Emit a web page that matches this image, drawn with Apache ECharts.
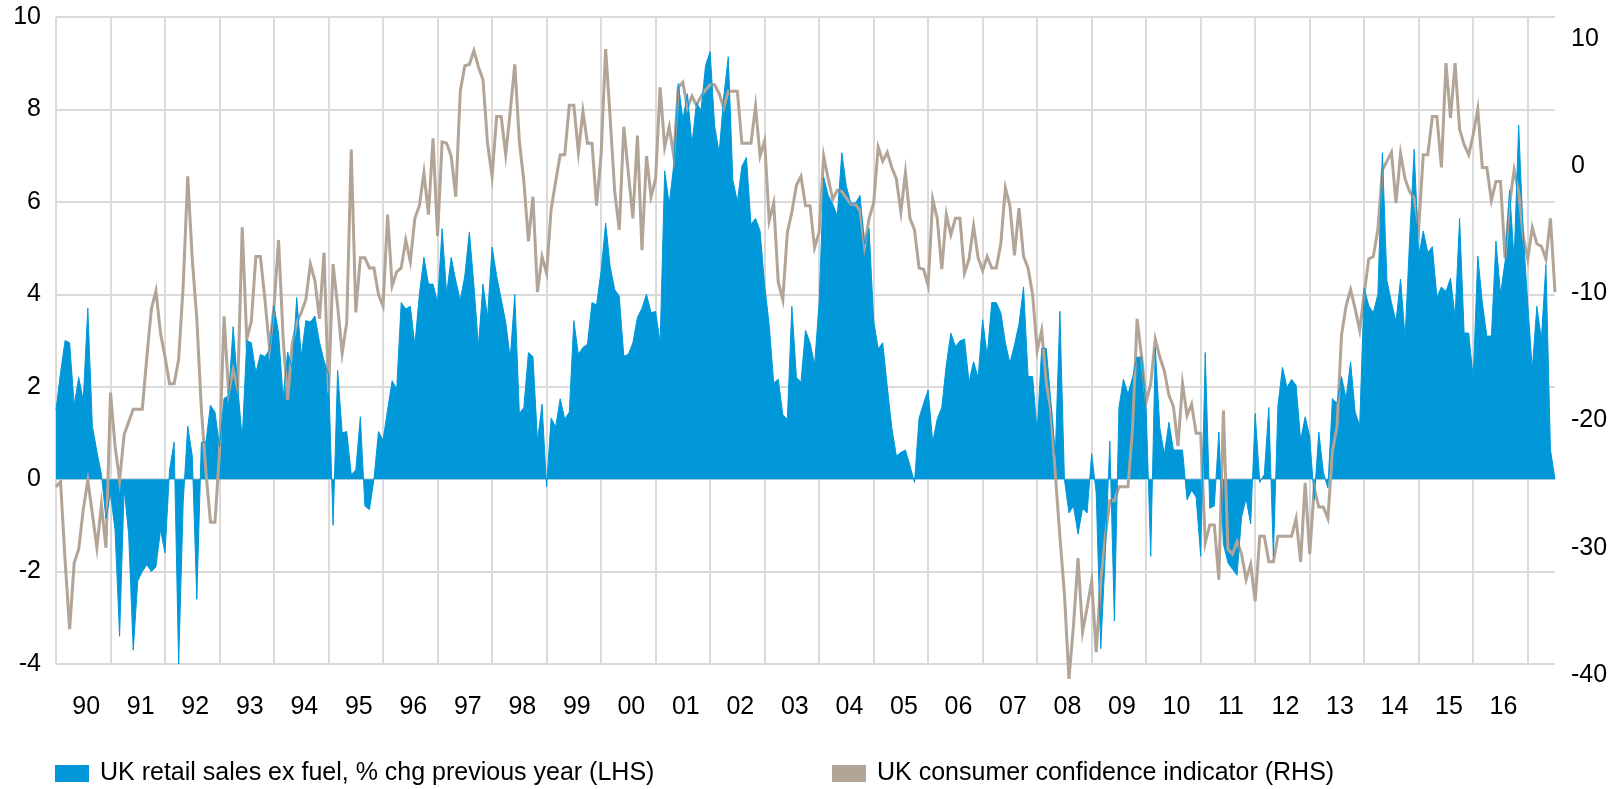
<!DOCTYPE html>
<html>
<head>
<meta charset="utf-8">
<title>UK retail sales and consumer confidence</title>
<script src="https://cdn.jsdelivr.net/npm/echarts@6/dist/echarts.min.js"></script>
<style>
  html, body { margin: 0; padding: 0; background: #ffffff; }
  #chart { width: 1616px; height: 789px; }
</style>
</head>
<body>
<div id="chart"></div>
<script>
// Monthly series, starting January 1990
const startYear = 1990;

// Two-digit year labels shown under each calendar year
const yearLabels = ['90','91','92','93','94','95','96','97','98','99','00','01','02','03',
                    '04','05','06','07','08','09','10','11','12','13','14','15','16'];

// UK retail sales ex fuel, % change on previous year (left axis)
const retailSales = [
  1.5, 2.3, 3.0, 2.95, 1.6, 2.2, 1.7, 3.7, 1.15, 0.6, 0.1, -0.85,
  -0.3, -1.1, -3.4, -0.2, -1.2, -3.7, -2.2, -2.0, -1.85, -2.0, -1.9, -1.1,
  -1.6, 0.2, 0.8, -4.0, -0.5, 1.15, 0.5, -2.6, 0.8, 0.8, 1.6, 1.45,
  0.7, 1.75, 1.8, 3.3, 2.0, 0.87, 3.0, 2.95, 2.3, 2.7, 2.65, 2.8,
  3.75, 3.15, 1.75, 2.75, 2.4, 3.93, 2.65, 3.43, 3.4, 3.53, 2.97, 2.56,
  2.27, -1.0, 2.35, 1.0, 1.03, 0.1, 0.2, 1.35, -0.58, -0.66, 0.0, 1.03,
  0.84, 1.5, 2.13, 1.95, 3.82, 3.68, 3.74, 2.9, 4.0, 4.8, 4.22, 4.22,
  3.82, 5.42, 4.0, 4.8, 4.3, 3.87, 4.4, 5.35, 4.2, 2.87, 4.22, 3.5,
  5.02, 4.4, 3.9, 3.4, 2.61, 4.0, 1.42, 1.55, 2.74, 2.65, 0.82, 1.62,
  -0.17, 1.32, 1.13, 1.74, 1.3, 1.45, 3.43, 2.7, 2.85, 2.92, 3.82, 3.77,
  4.5, 5.54, 4.6, 4.1, 3.96, 2.66, 2.7, 2.95, 3.5, 3.7, 4.0, 3.6,
  3.63, 2.95, 6.67, 5.95, 6.8, 8.56, 7.78, 8.34, 7.25, 8.14, 7.98, 8.95,
  9.25, 7.64, 7.06, 8.27, 9.14, 6.48, 6.0, 6.77, 6.96, 5.51, 5.64, 5.37,
  4.2, 3.34, 2.08, 2.16, 1.4, 1.29, 3.74, 2.2, 2.1, 3.22, 2.95, 2.47,
  3.82, 6.53, 6.14, 5.95, 5.7, 7.06, 6.33, 5.97, 5.97, 6.14, 5.08, 5.42,
  3.43, 2.82, 2.95, 2.0, 1.11, 0.5, 0.58, 0.63, 0.29, -0.07, 1.32, 1.64,
  1.93, 0.8, 1.3, 1.55, 2.47, 3.16, 2.87, 2.99, 3.03, 2.1, 2.54, 2.2,
  3.45, 2.66, 3.82, 3.82, 3.6, 2.95, 2.51, 2.9, 3.36, 4.16, 2.22, 2.22,
  1.02, 2.83, 2.83, 1.69, 0.53, 3.63, 0.0, -0.73, -0.58, -1.19, -0.63, -0.73,
  0.55, -0.3, -3.67, -1.6, 0.82, -3.07, 1.55, 2.16, 1.84, 2.2, 2.64, 2.64,
  1.5, -1.67, 2.83, 1.11, 0.53, 1.23, 0.63, 0.63, 0.63, -0.45, -0.24, -0.39,
  -1.67, 2.74, -0.63, -0.58, 1.02, -1.4, -1.81, -1.95, -2.08, -0.82, -0.42, -0.97,
  1.42, -0.07, 0.1, 1.55, -1.67, 1.58, 2.42, 1.98, 2.16, 2.03, 0.84, 1.35,
  0.92, -0.44, 1.02, 0.15, -0.19, 1.74, 1.64, 2.22, 1.74, 2.54, 1.45, 1.16,
  4.13, 3.75, 3.6, 4.0, 7.06, 4.3, 3.82, 3.41, 4.33, 3.05, 5.2, 7.14,
  4.83, 5.37, 4.9, 5.03, 3.94, 4.16, 4.06, 4.35, 3.51, 5.64, 3.16, 3.16,
  2.18, 4.83, 3.82, 3.09, 3.1, 5.15, 4.01, 4.7, 6.26, 4.74, 7.66, 5.3,
  3.8, 2.37, 3.74, 3.03, 4.64, 0.63, 0.0
];

// UK consumer confidence indicator (right axis)
const consumerConfidence = [
  -25.2, -24.8, -31, -36.4, -31.2, -30.1, -27, -24.7, -27.3, -30, -26.6, -30,
  -17.8, -22, -24.7, -21.1, -20.1, -19.1, -19.1, -19.1, -15, -11.2, -9.8, -13.1,
  -15, -17.1, -17.1, -15.2, -9.4, -0.8, -7.3, -12, -19.1, -24, -28, -28,
  -22.4, -11.8, -17.8, -16, -17.5, -4.8, -13.6, -12.2, -7.1, -7.1, -10.5, -14.3,
  -11, -5.8, -13.5, -18.4, -14, -12.3, -11.5, -10.5, -7.7, -9.0, -12, -6.8,
  -17.8, -7.7, -11, -14.7, -12.3, 1.3, -11.5, -7.2, -7.2, -8, -8, -10.1,
  -11, -3.8, -9.4, -8.3, -8, -5.8, -7.5, -4.1, -3.1, -0.5, -3.8, 2.2,
  -5.5, 1.9, 1.8, 0.8, -2.4, 5.9, 7.9, 8.0, 9.1, 7.8, 6.8, 1.8,
  -0.8, 3.9, 3.9, 0.9, 4.3, 8.0, 2.0, -1.2, -5.9, -2.4, -9.9, -7.1,
  -8.4, -3.4, -1.2, 0.9, 0.9, 4.8, 4.8, 1.1, 4.3, 1.8, 1.8, -3.1,
  0.9, 9.2, 3.8, -2, -5, 3.1, -0.5, -4.1, 2.4, -6.6, 0.8, -2.4,
  -1, 6.2, 1.5, 3.1, 0.8, 6.2, 6.6, 4.6, 5.5, 4.8, 5.5, 6.0,
  6.4, 6.4, 5.7, 4.6, 5.9, 5.9, 5.9, 1.8, 1.8, 1.8, 4.7, 0.8,
  2, -4.3, -2.9, -9.1, -10.5, -5.2, -3.6, -1.5, -0.8, -3.1, -3.1, -6.4,
  -5.2, 0.8, -1, -2.6, -1.9, -2.0, -2.5, -3, -3, -3.5, -6.3, -4.1,
  -2.9, 1.5, 0.4, 1.1, -0.1, -1, -3.6, -0.5, -4.1, -5, -8, -8.1,
  -9.4, -2.6, -4.1, -8.1, -3.8, -5.4, -4.1, -4.1, -8.4, -7.3, -4.7, -7.2,
  -8.2, -7.1, -8, -8, -6.1, -1.7, -3.1, -7, -3.3, -7.1, -8, -10.1,
  -14.5, -12.9, -17, -19.2, -24.2, -29.1, -33.6, -40.3, -36.1, -30.8, -36.6, -34.7,
  -32.6, -38.2, -32.6, -29.1, -26.3, -26.3, -25.2, -25.2, -25.2, -20.6, -12, -15,
  -18.5, -17.1, -13.6, -15, -16.1, -18, -18.9, -22, -17.1, -19.6, -18.7, -21,
  -21, -29.6, -28.2, -28.2, -32.5, -19.2, -30.1, -30.5, -29.5, -30.5, -32.5, -31.3,
  -34.2, -29.1, -29.1, -31.1, -31.1, -29.1, -29.1, -29.1, -29.1, -27.7, -31.1, -24.9,
  -30.5, -25.3, -26.8, -26.8, -27.7, -22.4, -20.5, -13.3, -11, -9.7, -11.2, -12.9,
  -10, -7.3, -7.1, -5, -0.3, 0.4, 1.1, -2.9, 1.0, -1, -2, -2.5,
  -4.8, 0.9, 0.9, 3.9, 3.9, -0.1, 8.1, 3.8, 8.1, 2.9, 1.7, 0.9,
  2.5, 4.5, -0.1, -0.1, -2.7, -1.2, -1.2, -7.2, -3, -0.3, -2, -5.5,
  -7.3, -4.8, -6.1, -6.3, -7.3, -4.1, -9.9
];

const retailName = 'UK retail sales ex fuel, % chg previous year (LHS)';
const confidenceName = 'UK consumer confidence indicator (RHS)';

const BLUE = '#0098d9';
const BROWN = '#b2a496';
const GRID_COLOR = '#dadada';
const FONT = '"Liberation Sans", Arial, Helvetica, sans-serif';

// One category per month
const months = retailSales.map((_, i) =>
  (startYear + Math.floor(i / 12)) + '-' + String(i % 12 + 1).padStart(2, '0'));

const isYearStart = (i) => i % 12 === 0;
const isMidYear = (i) => i % 12 === 6;

const chart = echarts.init(document.getElementById('chart'), null, { renderer: 'canvas' });

const legendBase = {
  icon: 'rect',
  itemWidth: 34,
  itemHeight: 17,
  padding: 0,
  textStyle: { color: '#000000', fontSize: 25, fontFamily: FONT, padding: [0, 0, 0, 6] }
};

chart.setOption({
  animation: false,
  backgroundColor: '#ffffff',
  textStyle: { fontFamily: FONT },
  grid: [
    // main plot, left axis
    { left: 56, right: 61, top: 17, bottom: 125 },
    // right axis frame
    { left: 56, right: 61, top: 39, bottom: 114 }
  ],
  xAxis: [
    {
      type: 'category',
      gridIndex: 0,
      data: months,
      boundaryGap: false,
      axisLine: { show: false },
      axisTick: {
        show: true,
        length: 19,
        interval: isYearStart,
        lineStyle: { color: GRID_COLOR, width: 2 }
      },
      splitLine: {
        show: true,
        interval: isYearStart,
        lineStyle: { color: GRID_COLOR, width: 2 }
      },
      axisLabel: {
        interval: isMidYear,
        formatter: (value, index) => yearLabels[Math.floor(index / 12)] || '',
        color: '#000000',
        fontSize: 25,
        fontFamily: FONT,
        margin: 31,
        padding: [0, 0, 0, 6]
      }
    },
    {
      type: 'category',
      gridIndex: 1,
      data: months,
      boundaryGap: false,
      show: false
    }
  ],
  yAxis: [
    {
      type: 'value',
      gridIndex: 0,
      position: 'left',
      min: -4,
      max: 10,
      interval: 2,
      axisLine: { show: false },
      axisTick: { show: false },
      splitLine: { show: true, lineStyle: { color: GRID_COLOR, width: 2 } },
      axisLabel: { color: '#000000', fontSize: 25, fontFamily: FONT, margin: 15 }
    },
    {
      type: 'value',
      gridIndex: 1,
      position: 'right',
      min: -40,
      max: 10,
      interval: 10,
      axisLine: { show: false },
      axisTick: { show: false },
      splitLine: { show: false },
      axisLabel: { color: '#000000', fontSize: 25, fontFamily: FONT, margin: 16 }
    }
  ],
  legend: [
    Object.assign({ data: [retailName], left: 55, top: 761 }, legendBase),
    Object.assign({ data: [confidenceName], left: 832, top: 761 }, legendBase)
  ],
  series: [
    {
      name: confidenceName,
      type: 'line',
      xAxisIndex: 1,
      yAxisIndex: 1,
      data: consumerConfidence,
      symbol: 'none',
      clip: false,
      lineStyle: { color: BROWN, width: 3, join: 'miter' },
      itemStyle: { color: BROWN }
    },
    {
      name: retailName,
      type: 'line',
      xAxisIndex: 0,
      yAxisIndex: 0,
      data: retailSales,
      symbol: 'none',
      lineStyle: { color: BLUE, width: 1 },
      itemStyle: { color: BLUE },
      areaStyle: { color: BLUE, opacity: 1, origin: 0 }
    }
  ]
});
</script>
</body>
</html>
